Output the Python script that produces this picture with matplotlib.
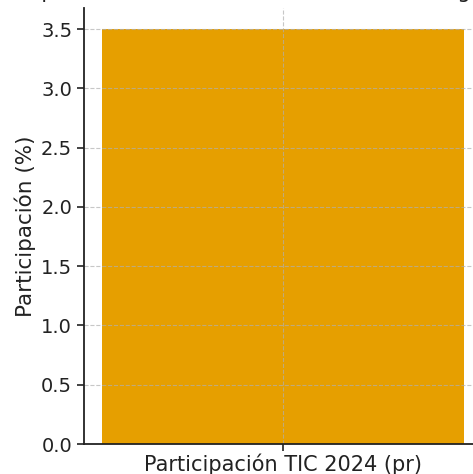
import matplotlib
matplotlib.use("Agg")
import matplotlib.pyplot as plt

# Data
categories = ["Participación TIC 2024 (pr)"]
values = [3.5]

bar_color = "#E69F00"

# Figure sized to match the cropped reference
fig = plt.figure(figsize=(4.73, 4.74), dpi=100)

# Axes placed so that the right side runs past the figure edge like the reference crop
ax = fig.add_axes([84 / 473, 30 / 474, 398 / 473, 435.7 / 474])

ax.bar(categories, values, color=bar_color, width=0.8)

# Title sits just above the visible area (only descenders show)
fig.text(0.5, 1.004, "Participación del sector TIC en la economía según", ha="center",
         va="baseline", fontsize=15, color="#222222")

ax.set_ylabel("Participación (%)", fontsize=15.5, color="#222222", labelpad=3.5)
ax.tick_params(axis="y", labelsize=14, colors="#222222", length=5, width=1.2)
ax.tick_params(axis="x", labelsize=15, colors="#222222", length=5, width=1.2, pad=1.5)

ax.grid(True, linestyle="--", color="#b0b0b0", alpha=0.7, linewidth=0.8)

ax.spines["top"].set_visible(False)
ax.spines["right"].set_visible(False)
ax.spines["left"].set_linewidth(1.3)
ax.spines["bottom"].set_linewidth(1.3)
ax.spines["left"].set_color("#222222")
ax.spines["bottom"].set_color("#222222")

fig.savefig("out.png", dpi=100)
